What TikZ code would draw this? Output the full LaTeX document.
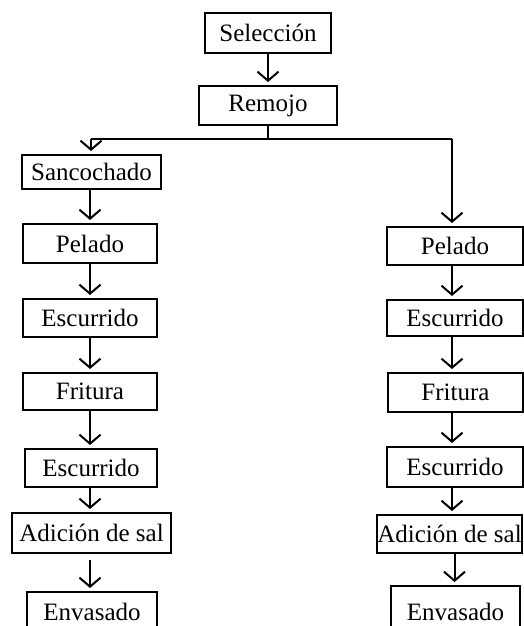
\documentclass[tikz,border=0pt]{standalone}
\usepackage{fontspec}
\setmainfont{Liberation Serif}
\usetikzlibrary{arrows.meta}
\begin{document}
\begin{tikzpicture}[x=1pt,y=-1pt,
  box/.style={draw, line width=2pt, inner sep=0pt, font=\fontsize{25}{30}\selectfont},
  link/.style={line width=2pt},
  arr/.style={line width=2pt, -{Straight Barb[length=9pt,width=21pt,line width=2pt]}, shorten >=3pt}]
\useasboundingbox (0,0) rectangle (524,626);
\clip (0,0) rectangle (524,626);
% top
\node[box, minimum width=126pt, minimum height=40pt] (sel) at (268,33) {Selección};
\node[box, minimum width=138pt, minimum height=39pt] (rem) at (268,105.5) {Remojo};
\coordinate (j) at (268,139);
\coordinate (jl) at (91,139);
\coordinate (jr) at (452,139);
\coordinate (cl) at (90,0);
% left column
\node[box, minimum width=139pt, minimum height=34pt] (sanc) at (91.5,172) {Sancochado};
\node[box, minimum width=134pt, minimum height=39pt] (pelL) at (90,243.5) {Pelado};
\node[box, minimum width=134pt, minimum height=38pt] (escL1) at (90,318) {Escurrido};
\node[box, minimum width=134pt, minimum height=37pt] (friL) at (90,391.5) {Fritura};
\node[box, minimum width=132pt, minimum height=38pt] (escL2) at (91,468) {Escurrido};
\node[box, minimum width=159pt, minimum height=40pt] (adiL) at (91.5,533) {Adición de sal};
\node[box, minimum width=130pt, minimum height=40pt] (envL) at (92,612) {Envasado};
% right column
\node[box, minimum width=136pt, minimum height=38pt] (pelR) at (455,246) {Pelado};
\node[box, minimum width=136pt, minimum height=36pt] (escR1) at (455,318) {Escurrido};
\node[box, minimum width=135pt, minimum height=39pt] (friR) at (455.5,392.5) {Fritura};
\node[box, minimum width=144pt, minimum height=38pt] (adiR) at (449.5,534) {Adición de sal};
\node[box, minimum width=136pt, minimum height=40pt] (escR2) at (455,467) {Escurrido};
\node[box, minimum width=129pt, minimum height=52pt] (envR) at (455.5,612) {Envasado};
% connectors
\draw[arr] (sel) -- (rem);
\draw[link] (rem.south) -- (j);
\draw[link] (jl) -- (jr);
\draw[arr] (jl) -- (sanc.north -| jl);
\draw[arr] (jr) -- (pelR.north -| jr);
\draw[arr] (sanc.south -| cl) -- (pelL.north -| cl);
\draw[arr] (pelL.south -| cl) -- (escL1.north -| cl);
\draw[arr] (escL1.south -| cl) -- (friL.north -| cl);
\draw[arr] (friL.south -| cl) -- (escL2.north -| cl);
\draw[arr] (escL2.south -| cl) -- (adiL.north -| cl);
\draw[arr] ([yshift=-6pt]adiL.south -| cl) -- (envL.north -| cl);
\draw[arr] (pelR.south -| jr) -- (escR1.north -| jr);
\draw[arr] (escR1.south -| jr) -- (friR.north -| jr);
\draw[arr] (friR.south -| jr) -- (escR2.north -| jr);
\draw[arr] (escR2.south -| jr) -- (adiR.north -| jr);
\draw[arr] ([xshift=5pt]adiR.south) -- ([xshift=5pt]adiR.south |- envR.north);
\end{tikzpicture}
\end{document}
